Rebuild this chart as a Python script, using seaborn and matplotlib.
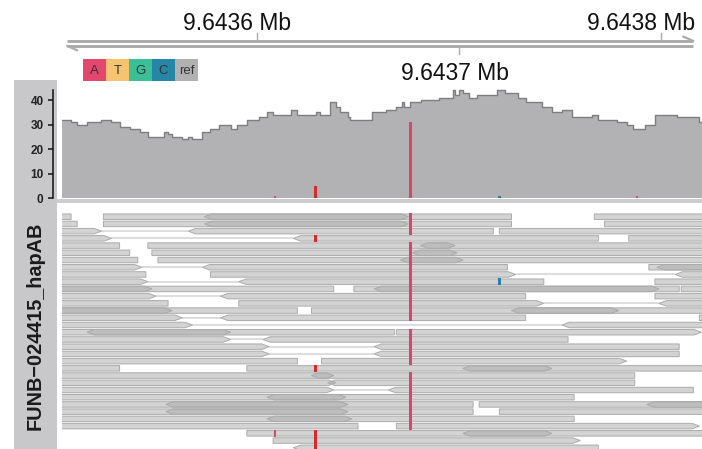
import matplotlib
matplotlib.use("Agg")
import matplotlib.pyplot as plt
import seaborn as sns
import numpy as np
from matplotlib.patches import Rectangle
from matplotlib.collections import PolyCollection, LineCollection

# ---------------- data ----------------
track_title = "FUNB\u2212024415_hapAB"
axis_ticks = [9643600, 9643700, 9643800]
axis_labels = ["9.6436 Mb", "9.6437 Mb", "9.6438 Mb"]
axis_label_above = [True, False, True]
legend_bases = ["A", "T", "G", "C", "ref"]
legend_colors = ["#E4476D", "#F6C470", "#3BBF96", "#2686A6", "#B1B1B1"]
cov_ticks = [0, 10, 20, 30, 40]

cov_start = [9643503, 9643508, 9643511, 9643516, 9643523, 9643528, 9643532, 9643537,
             9643542, 9643546, 9643554, 9643556, 9643558, 9643563, 9643566, 9643568,
             9643573, 9643577, 9643581, 9643587, 9643590, 9643595, 9643601, 9643605,
             9643608, 9643617, 9643620, 9643629, 9643631, 9643636, 9643639, 9643641,
             9643645, 9643646, 9643657, 9643664, 9643669, 9643672, 9643673, 9643676,
             9643681, 9643690, 9643697, 9643698, 9643700, 9643702, 9643705, 9643709,
             9643719, 9643723, 9643729, 9643733, 9643741, 9643746, 9643751, 9643756,
             9643766, 9643769, 9643778, 9643783, 9643786, 9643792, 9643797, 9643808,
             9643819]
cov_value = [32, 31, 30, 31, 32, 31, 29, 28, 27, 25, 27, 26, 25, 24, 25, 24,
             27, 28, 30, 28, 30, 32, 33, 35, 34, 36, 34, 35, 34, 39, 37, 35,
             33, 32, 35, 36, 37, 39, 37, 39, 40, 41, 44, 42, 44, 43, 41, 42,
             44, 43, 41, 39, 37, 35, 36, 33, 34, 32, 31, 30, 28, 30, 34, 33, 31]
cov_end = 9643821

snp_pos = [9643609, 9643629, 9643676, 9643720, 9643788]
snp_count = [1, 5, 31, 1, 1]
snp_base = ["A", "X", "A", "C", "A"]

read_row = [0, 0, 0, 0,
            1, 1, 1, 1,
            2, 2, 2,
            3, 3, 3,
            4, 4, 4,
            5, 5, 5,
            6, 6, 6,
            7, 7, 7, 7,
            8, 8, 8,
            9, 9, 9,
            10, 10, 10, 10, 10,
            11, 11, 11,
            12, 12, 12,
            13, 13, 13, 13,
            14, 14, 14,
            15, 15,
            16, 16, 16,
            17, 17,
            18, 18,
            19, 19,
            20, 20,
            21, 21, 21,
            22, 22,
            23, 23,
            24, 24,
            25, 25,
            26, 26, 26, 26,
            27, 27, 27,
            28, 28,
            29, 29,
            30, 30,
            31,
            32]
read_start = [9643470, 9643524, 9643574, 9643767,
              9643470, 9643524, 9643574, 9643772,
              9643470, 9643566, 9643720,
              9643470, 9643618, 9643784,
              9643470, 9643546, 9643681,
              9643470, 9643548, 9643677,
              9643470, 9643551, 9643671,
              9643470, 9643573, 9643794, 9643798,
              9643470, 9643577, 9643807,
              9643470, 9643591, 9643797,
              9643470, 9643470, 9643648, 9643658, 9643810,
              9643470, 9643582, 9643797,
              9643470, 9643591, 9643799,
              9643470, 9643470, 9643627, 9643726,
              9643470, 9643582, 9643819,
              9643470, 9643751,
              9643470, 9643516, 9643669,
              9643470, 9643603,
              9643470, 9643658,
              9643470, 9643658,
              9643470, 9643632,
              9643470, 9643595, 9643702,
              9643470, 9643627,
              9643470, 9643635,
              9643470, 9643665,
              9643470, 9643605,
              9643470, 9643555, 9643710, 9643793,
              9643470, 9643555, 9643720,
              9643470, 9643605,
              9643470, 9643669,
              9643595, 9643702,
              9643608,
              9643618]
read_end = [9643508, 9643675, 9643726, 9643850,
            9643511, 9643675, 9643726, 9643850,
            9643523, 9643717, 9643850,
            9643528, 9643769, 9643850,
            9643532, 9643698, 9643850,
            9643537, 9643699, 9643850,
            9643541, 9643702, 9643850,
            9643543, 9643724, 9643850, 9643850,
            9643545, 9643728, 9643850,
            9643546, 9643742, 9643850,
            9643548, 9643638, 9643799, 9643809, 9643850,
            9643550, 9643733, 9643850,
            9643556, 9643742, 9643850,
            9643558, 9643620, 9643779, 9643850,
            9643563, 9643733, 9643850,
            9643568, 9643850,
            9643587, 9643668, 9643820,
            9643587, 9643754,
            9643606, 9643809,
            9643606, 9643809,
            9643620, 9643783,
            9643532, 9643746, 9643850,
            9643638, 9643787,
            9643639, 9643787,
            9643638, 9643816,
            9643644, 9643757,
            9643645, 9643707, 9643850, 9643850,
            9643645, 9643707, 9643850,
            9643647, 9643757,
            9643650, 9643819,
            9643746, 9643850,
            9643760,
            9643769]
read_strand = ["-", "+", "-", "+",
               "-", "+", "-", "+",
               "+", "-", "+",
               "+", "-", "+",
               "-", "+", "-",
               "-", "+", "-",
               "-", "+", "-",
               "+", "-", "+", "-",
               "-", "+", "-",
               "+", "-", "+",
               "+", "-", "+", "-", "+",
               "+", "-", "+",
               "-", "+", "-",
               "+", "-", "+", "-",
               "+", "-", "+",
               "+", "-",
               "+", "-", "+",
               "+", "-",
               "+", "-",
               "+", "-",
               "-", "+",
               "-", "+", "-",
               "+", "-",
               "+", "-",
               "+", "-",
               "+", "-",
               "+", "-", "+", "-",
               "+", "-", "+",
               "+", "-",
               "-", "+",
               "+", "-",
               "+",
               "-"]

link_row = [2, 3, 7, 8, 9, 11, 12, 14, 15, 17, 18, 19, 24]
link_start = [9643523, 9643528, 9643543, 9643728, 9643546, 9643550, 9643742,
              9643563, 9643568, 9643587, 9643606, 9643606, 9643638]
link_end = [9643566, 9643618, 9643573, 9643807, 9643591, 9643582, 9643799,
            9643582, 9643751, 9643603, 9643658, 9643658, 9643665]

mm_A_rows = [0, 1, 2, 4, 5, 6, 7, 8, 9, 10, 11, 12, 13, 14, 16, 17, 18, 19,
             20, 22, 23, 24, 25, 26, 27, 28, 29]
mm_A_pos = 9643676
mm_X_rows = [3, 21, 30, 31, 32]
mm_X_pos = 9643629
mm_extra_row = [30, 9]
mm_extra_pos = [9643609, 9643720]
mm_extra_base = ["A", "C"]

base_color = {"A": "#D6486B", "C": "#2A7FAE", "X": "#D42A2E"}

# ---------------- layout ----------------
W, H = 702, 449
sns.set_theme(style="white")
plt.rcParams["font.family"] = ["Liberation Sans", "DejaVu Sans"]

fig = plt.figure(figsize=(W / 100, H / 100), dpi=100)


def rect(x0, y0, x1, y1):
    return [x0 / W, 1 - y1 / H, (x1 - x0) / W, (y1 - y0) / H]


XLIM = (9643503.5, 9643820.3)

# title panel
ax_t = fig.add_axes(rect(14, 80, 57, 449))
ax_t.set_facecolor("#C8C8CA")
ax_t.set_xticks([])
ax_t.set_yticks([])
for s in ax_t.spines.values():
    s.set_visible(False)
ax_t.text(0.5, (449 - 325.5) / (449 - 80), track_title, rotation=90,
          ha="center", va="center", fontsize=14.3, fontweight="bold",
          color="#1A1A1A", transform=ax_t.transAxes)

# coverage
ax_c = fig.add_axes(rect(62, 88, 702, 198.3))
ax_c.set_facecolor("none")
cx = np.array(cov_start + [cov_end], dtype=float)
cy = np.array(cov_value + [cov_value[-1]], dtype=float)
ax_c.fill_between(cx, cy, step="post", color="#B2B2B4", lw=0, zorder=1)
sns.lineplot(x=cx, y=cy, drawstyle="steps-post", color="#7E7E7E", lw=1.0,
             ax=ax_c, estimator=None, zorder=2)
snp_cols = [base_color[b] for b in snp_base]
ax_c.bar(snp_pos, snp_count, width=1.2, color=snp_cols, lw=0, zorder=3)
ax_c.set_xlim(XLIM)
ax_c.set_ylim(0, 110.3 / 2.4575)
ax_c.set_xticks([])
for k in ["top", "right", "bottom"]:
    ax_c.spines[k].set_visible(False)
ax_c.spines["left"].set_visible(True)
ax_c.spines["left"].set_color("#111111")
ax_c.spines["left"].set_linewidth(1.1)
ax_c.spines["left"].set_position(("outward", 6.5))
ax_c.spines["left"].set_bounds(0, 44)
ax_c.set_yticks(cov_ticks)
ax_c.set_yticklabels([str(t) for t in cov_ticks])
ax_c.tick_params(axis="y", left=True, length=3.6, width=1.1, color="#111111",
                 pad=3.2, labelsize=8.5, labelcolor="#222222")
for lab in ax_c.get_yticklabels():
    lab.set_fontweight("bold")
ax_c.set_xlabel("")
ax_c.set_ylabel("")

# separator band
fig.add_artist(Rectangle((57 / W, 1 - 202.5 / H), (702 - 57) / W, 3.4 / H,
                         transform=fig.transFigure, color="#CDCDCD", lw=0))

# reads
ax_r = fig.add_axes(rect(62, 213.1, 702, 449))
ax_r.set_facecolor("none")
ax_r.set_xlim(XLIM)
ax_r.set_ylim(32.17, -0.5)
ax_r.axis("off")

links = [[(s, r), (e, r)] for r, s, e in zip(link_row, link_start, link_end)]
ax_r.add_collection(LineCollection(links, colors="#DADADA", linewidths=1.3,
                                   zorder=1))

hh = 0.38
tip = 3.6
polys = []
for r, s, e, st in zip(read_row, read_start, read_end, read_strand):
    if st == "+":
        polys.append([(s, r - hh), (e - tip, r - hh), (e, r), (e - tip, r + hh),
                      (s, r + hh)])
    else:
        polys.append([(s, r), (s + tip, r - hh), (e, r - hh), (e, r + hh),
                      (s + tip, r + hh)])
ax_r.add_collection(PolyCollection(polys, facecolors=(0.66, 0.66, 0.66, 0.5),
                                   edgecolors="#ABABAB", linewidths=0.7,
                                   zorder=2))

mm_rows = mm_A_rows + mm_X_rows + mm_extra_row
mm_pos = [mm_A_pos] * len(mm_A_rows) + [mm_X_pos] * len(mm_X_rows) + mm_extra_pos
mm_col = ([base_color["A"]] * len(mm_A_rows) + [base_color["X"]] * len(mm_X_rows)
          + [base_color[b] for b in mm_extra_base])
ax_r.bar(mm_pos, [1.0] * len(mm_rows), bottom=[r - 0.5 for r in mm_rows],
         width=1.2, color=mm_col, lw=0, zorder=3)

# genome axis
ax_a = fig.add_axes(rect(62, 0, 702, 90))
ax_a.set_facecolor("none")
ax_a.set_xlim(XLIM)
ax_a.set_ylim(90, 0)
ax_a.axis("off")
AX_START, AX_END = 9643506, 9643816
gcol = "#ABABAB"
ax_a.plot([AX_START, AX_END], [41.0, 41.0], color=gcol, lw=2.1,
          solid_capstyle="butt")
ax_a.plot([AX_START, AX_END], [45.8, 45.8], color=gcol, lw=2.1,
          solid_capstyle="butt")
ax_a.plot([AX_END - 5, AX_END], [36.5, 41.0], color=gcol, lw=1.6)
ax_a.plot([AX_START, AX_START + 5], [45.8, 50.3], color=gcol, lw=1.6)
for t, lab, above in zip(axis_ticks, axis_labels, axis_label_above):
    if above:
        ax_a.plot([t, t], [41.0, 33.0], color=gcol, lw=1.0)
        ax_a.text(t - 10, 29.5, lab, ha="center", va="baseline",
                  fontsize=16.5, color="#111111", clip_on=False)
    else:
        ax_a.plot([t, t], [45.8, 54.0], color=gcol, lw=1.0)
        ax_a.text(t - 2, 79.5, lab, ha="center", va="baseline",
                  fontsize=16.5, color="#111111", clip_on=False)

# base legend
ax_l = fig.add_axes(rect(83, 59, 198, 81))
ax_l.set_xlim(0, len(legend_bases))
ax_l.set_ylim(0, 1)
ax_l.axis("off")
ax_l.bar(np.arange(len(legend_bases)), [1] * len(legend_bases), width=1,
         align="edge", color=legend_colors, lw=0)
for i, b in enumerate(legend_bases):
    ax_l.text(i + 0.5, 0.45, b, ha="center", va="center", fontsize=9.5,
              color="#333333")

fig.savefig("out.png", dpi=100)
